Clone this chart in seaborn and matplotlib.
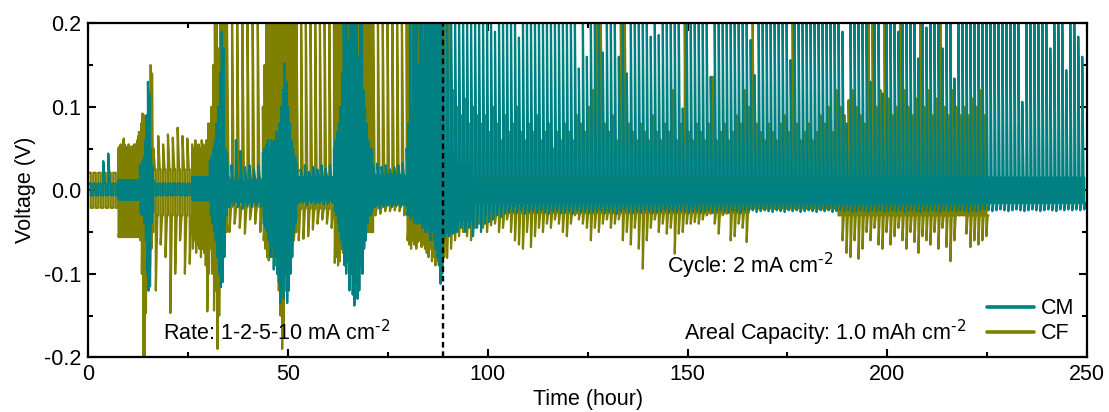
import matplotlib
matplotlib.use("Agg")
import matplotlib.pyplot as plt
import numpy as np
import pandas as pd
import seaborn as sns
from matplotlib.lines import Line2D
from matplotlib.ticker import MultipleLocator, FormatStrFormatter

# ---------------------------------------------------------------------------
# Galvanostatic cycling of two symmetric cells (CM and CF).
# Each series is stored as blocks of cycles: block time edges (hour), number of
# cycles in the block, plateau voltages, and the per-cycle peak voltages of the
# stripping (up) and plating (down) steps.  A scalar means the same value for
# every cycle of that block.
# ---------------------------------------------------------------------------

cm_edges = [0.0, 7.5, 12.9, 16.3, 26.0, 30.4, 34.7, 43.7, 52.1, 61.5, 71.3,
            79.7, 88.8, 91.8, 95.8, 249.8]
cm_cycles = [6, 27, 10, 8, 22, 10, 8, 20, 9, 24, 8, 22, 3, 4, 154]
cm_hi = [0.008, 0.011, 0.028, 0.008, 0.014, 0.03, 0.012, 0.04, 0.016, 0.045,
         0.018, 0.025, 0.045, 0.03, 0.015]
cm_lo = [-0.006, -0.010, -0.026, -0.006, -0.011, -0.03, -0.014, -0.035, -0.012,
         -0.02, -0.016, -0.025, -0.05, -0.035, -0.015]
cm_up = [
    [0.008, 0.008, 0.008, 0.035, 0.044, 0.008],
    0.012,
    [0.03, 0.03, 0.035, 0.04, 0.06, 0.09, 0.13, 0.115, 0.05, 0.03],
    [0.012, 0.008, 0.008, 0.008, 0.008, 0.008, 0.008, 0.008],
    0.016,
    [0.035, 0.04, 0.05, 0.06, 0.08, 0.1, 0.14, 0.19, 0.17, 0.05],
    [0.045, 0.03, 0.06, 0.047, 0.028, 0.03, 0.025, 0.03],
    [0.045, 0.05, 0.055, 0.06, 0.05, 0.06, 0.05, 0.06, 0.07, 0.06,
     0.08, 0.1, 0.12, 0.152, 0.13, 0.1, 0.08, 0.06, 0.05, 0.04],
    [0.032, 0.025, 0.03, 0.022, 0.028, 0.025, 0.03, 0.026, 0.03],
    [0.05, 0.06, 0.07, 0.08, 0.1, 0.14, 0.21, 0.21, 0.21, 0.18,
     0.21, 0.21, 0.21, 0.21, 0.21, 0.16, 0.21, 0.21, 0.12, 0.1,
     0.08, 0.06, 0.05, 0.05],
    [0.03, 0.032, 0.028, 0.03, 0.025, 0.028, 0.03, 0.032],
    [0.05, 0.08, 0.21, 0.1, 0.21, 0.12, 0.21, 0.15, 0.21, 0.21,
     0.18, 0.21, 0.21, 0.21, 0.21, 0.21, 0.21, 0.21, 0.21, 0.21,
     0.21, 0.21],
    0.21,
    0.21,
    [0.21, 0.21, 0.21, 0.21, 0.21, 0.21, 0.19, 0.21, 0.21, 0.21,
     0.21, 0.21, 0.183, 0.21, 0.21, 0.21, 0.21, 0.21, 0.21, 0.21,
     0.21, 0.21, 0.21, 0.21, 0.21, 0.21, 0.21, 0.146, 0.21, 0.16,
     0.21, 0.21, 0.21, 0.165, 0.21, 0.21, 0.21, 0.16, 0.21, 0.14,
     0.21, 0.21, 0.21, 0.21, 0.21, 0.184, 0.21, 0.186, 0.21, 0.21,
     0.21, 0.21, 0.21, 0.098, 0.21, 0.21, 0.21, 0.21, 0.21, 0.21,
     0.136, 0.21, 0.21, 0.21, 0.21, 0.21, 0.21, 0.21, 0.21, 0.21,
     0.18, 0.138, 0.21, 0.21, 0.21, 0.21, 0.21, 0.21, 0.21, 0.21,
     0.156, 0.21, 0.21, 0.21, 0.21, 0.21, 0.21, 0.21, 0.21, 0.21,
     0.21, 0.21, 0.21, 0.19, 0.08, 0.21, 0.21, 0.21, 0.21, 0.21,
     0.13, 0.21, 0.21, 0.116, 0.21, 0.21, 0.21, 0.19, 0.21, 0.21,
     0.21, 0.21, 0.158, 0.21, 0.195, 0.21, 0.21, 0.21, 0.17, 0.21,
     0.21, 0.134, 0.21, 0.21, 0.21, 0.21, 0.21, 0.21, 0.21, 0.21,
     0.21, 0.21, 0.21, 0.21, 0.21, 0.21, 0.21, 0.21, 0.106, 0.21,
     0.21, 0.21, 0.21, 0.21, 0.21, 0.17, 0.21, 0.21, 0.21, 0.144,
     0.21, 0.21, 0.184, 0.16],
]
cm_down = [
    -0.006,
    -0.011,
    [-0.028, -0.03, -0.03, -0.04, -0.06, -0.1, -0.12, -0.115, -0.04, -0.02],
    -0.006,
    -0.012,
    [-0.03, -0.04, -0.05, -0.06, -0.08, -0.1, -0.116, -0.11, -0.08, -0.03],
    [-0.02, -0.018, -0.02, -0.022, -0.018, -0.02, -0.018, -0.02],
    [-0.04, -0.045, -0.05, -0.06, -0.08, -0.07, -0.095, -0.08, -0.1, -0.11,
     -0.135, -0.12, -0.13, -0.1, -0.135, -0.12, -0.1, -0.08, -0.05, -0.04],
    [-0.016, -0.015, -0.018, -0.015, -0.016, -0.015, -0.017, -0.016, -0.015],
    [-0.025, -0.03, -0.04, -0.05, -0.06, -0.07, -0.09, -0.1, -0.085, -0.12,
     -0.1, -0.125, -0.138, -0.11, -0.13, -0.12, -0.09, -0.1, -0.07, -0.06,
     -0.04, -0.03, -0.03, -0.025],
    [-0.02, -0.022, -0.02, -0.018, -0.02, -0.018, -0.02, -0.018],
    [-0.03, -0.03, -0.035, -0.03, -0.04, -0.035, -0.04, -0.03, -0.04, -0.045,
     -0.04, -0.05, -0.045, -0.05, -0.06, -0.05, -0.06, -0.07, -0.08, -0.09,
     -0.112, -0.1],
    [-0.056, -0.055, -0.052],
    [-0.05, -0.045, -0.05, -0.045],
    [-0.055, -0.045, -0.05, -0.04, -0.038, -0.035, -0.03, -0.032, -0.028, -0.026,
     -0.025, -0.027, -0.024, -0.028, -0.026, -0.025, -0.027, -0.024, -0.026, -0.028,
     -0.025, -0.024, -0.027, -0.026, -0.025, -0.028, -0.024, -0.026, -0.025, -0.027,
     -0.026, -0.025, -0.024, -0.027, -0.025, -0.026, -0.028, -0.025, -0.024, -0.026,
     -0.027, -0.025, -0.026, -0.024, -0.025, -0.027, -0.026, -0.025, -0.024, -0.026,
     -0.025, -0.026, -0.024, -0.025, -0.027, -0.025, -0.024, -0.026, -0.025, -0.024,
     -0.026, -0.025, -0.024, -0.025, -0.026, -0.024, -0.025, -0.027, -0.024, -0.025,
     -0.024, -0.026, -0.025, -0.024, -0.025, -0.026, -0.024, -0.025, -0.026, -0.024,
     -0.025, -0.024, -0.026, -0.025, -0.024, -0.025, -0.026, -0.024, -0.025, -0.024,
     -0.026, -0.025, -0.024, -0.025, -0.024, -0.026, -0.025, -0.024, -0.025, -0.026,
     -0.024, -0.025, -0.024, -0.026, -0.025, -0.024, -0.025, -0.024, -0.026, -0.025,
     -0.024, -0.025, -0.026, -0.024, -0.025, -0.024, -0.025, -0.026, -0.024, -0.025,
     -0.024, -0.025, -0.024, -0.025, -0.026, -0.024, -0.025, -0.024, -0.023, -0.024,
     -0.025, -0.024, -0.023, -0.024, -0.025, -0.024, -0.023, -0.024, -0.025, -0.024,
     -0.023, -0.024, -0.025, -0.024, -0.023, -0.024, -0.025, -0.023, -0.024, -0.023,
     -0.024, -0.023, -0.024, -0.023],
]

cf_edges = [0.0, 7.5, 12.9, 16.3, 26.0, 30.4, 34.7, 43.7, 52.1, 61.5, 71.3,
            79.7, 89.3, 165.3, 187.3, 225.3]
cf_cycles = [6, 27, 10, 8, 11, 10, 7, 20, 8, 24, 7, 22, 76, 22, 38]
cf_hi = [0.021, 0.045, 0.05, 0.025, 0.04, 0.04, 0.015, 0.05, 0.015, 0.05,
         0.015, 0.04, 0.017, 0.016, 0.017]
cf_lo = [-0.021, -0.052, -0.05, -0.03, -0.05, -0.05, -0.02, -0.05, -0.022,
         -0.05, -0.018, -0.05, -0.027, -0.017, -0.03]
cf_up = [
    0.021,
    [0.05, 0.052, 0.048, 0.055, 0.05, 0.053, 0.06, 0.062, 0.055, 0.05,
     0.052, 0.048, 0.05, 0.055, 0.05, 0.052, 0.05, 0.048, 0.053, 0.05,
     0.055, 0.05, 0.052, 0.056, 0.06, 0.065, 0.07],
    [0.06, 0.08, 0.092, 0.09, 0.07, 0.06, 0.08, 0.12, 0.15, 0.14],
    [0.05, 0.065, 0.055, 0.067, 0.063, 0.075, 0.065, 0.062],
    [0.055, 0.05, 0.06, 0.05, 0.055, 0.05, 0.06, 0.055, 0.05, 0.06, 0.08],
    [0.08, 0.1, 0.15, 0.21, 0.21, 0.17, 0.21, 0.21, 0.21, 0.21],
    0.21,
    [0.1, 0.15, 0.21, 0.21, 0.21, 0.21, 0.21, 0.21, 0.21, 0.21,
     0.21, 0.21, 0.21, 0.21, 0.21, 0.21, 0.21, 0.21, 0.21, 0.21],
    0.21,
    0.21,
    0.21,
    0.21,
    [0.21, 0.21, 0.12, 0.1, 0.09, 0.11, 0.08, 0.1, 0.09, 0.08,
     0.09, 0.07, 0.1, 0.08, 0.06, 0.09, 0.07, 0.08, 0.1, 0.07,
     0.06, 0.08, 0.07, 0.09, 0.06, 0.07, 0.08, 0.05, 0.07, 0.06,
     0.08, 0.07, 0.06, 0.09, 0.08, 0.07, 0.1, 0.12, 0.21, 0.21,
     0.08, 0.07, 0.09, 0.06, 0.21, 0.21, 0.08, 0.07, 0.06, 0.08,
     0.07, 0.06, 0.09, 0.07, 0.06, 0.08, 0.07, 0.12, 0.06, 0.08,
     0.21, 0.07, 0.06, 0.08, 0.07, 0.06, 0.08, 0.136, 0.06, 0.07,
     0.08, 0.06, 0.07, 0.09, 0.08, 0.12],
    [0.1, 0.21, 0.08, 0.07, 0.06, 0.08, 0.07, 0.06, 0.08, 0.09,
     0.07, 0.21, 0.08, 0.06, 0.07, 0.08, 0.06, 0.07, 0.09, 0.08,
     0.1, 0.07],
    [0.12, 0.1, 0.09, 0.108, 0.12, 0.1, 0.09, 0.08, 0.21, 0.21,
     0.1, 0.12, 0.21, 0.11, 0.09, 0.1, 0.21, 0.12, 0.1, 0.09,
     0.11, 0.21, 0.1, 0.12, 0.09, 0.11, 0.21, 0.1, 0.09, 0.12,
     0.1, 0.09, 0.1, 0.09, 0.11, 0.1, 0.12, 0.09],
]
cf_down = [
    -0.021,
    -0.056,
    [-0.06, -0.1, -0.2, -0.2, -0.147, -0.1, -0.12, -0.09, -0.07, -0.05],
    [-0.12, -0.065, -0.08, -0.147, -0.1, -0.06, -0.1, -0.088],
    [-0.07, -0.06, -0.075, -0.065, -0.07, -0.08, -0.07, -0.075, -0.09, -0.145, -0.1],
    [-0.07, -0.1, -0.144, -0.12, -0.19, -0.15, -0.1, -0.08, -0.06, -0.05],
    [-0.05, -0.04, -0.045, -0.052, -0.035, -0.04, -0.05],
    [-0.06, -0.07, -0.08, -0.084, -0.07, -0.08, -0.06, -0.09, -0.1, -0.12,
     -0.15, -0.19, -0.16, -0.12, -0.1, -0.08, -0.07, -0.06, -0.06, -0.05],
    [-0.06, -0.058, -0.055, -0.047, -0.04, -0.035, -0.04, -0.045],
    [-0.087, -0.08, -0.09, -0.085, -0.07, -0.075, -0.08, -0.07, -0.065, -0.06,
     -0.07, -0.065, -0.06, -0.065, -0.06, -0.055, -0.06, -0.05, -0.05, -0.045,
     -0.04, -0.04, -0.035, -0.03],
    [-0.03, -0.028, -0.025, -0.025, -0.024, -0.025, -0.03],
    [-0.06, -0.065, -0.07, -0.06, -0.065, -0.07, -0.062, -0.06, -0.068, -0.065,
     -0.07, -0.075, -0.08, -0.07, -0.085, -0.08, -0.09, -0.085, -0.08, -0.092,
     -0.085, -0.08],
    [-0.081, -0.07, -0.06, -0.055, -0.05, -0.055, -0.06, -0.045, -0.04, -0.045,
     -0.05, -0.042, -0.04, -0.05, -0.045, -0.035, -0.05, -0.06, -0.065, -0.07,
     -0.05, -0.068, -0.055, -0.045, -0.05, -0.04, -0.045, -0.035, -0.04, -0.05,
     -0.055, -0.04, -0.03, -0.035, -0.04, -0.045, -0.06, -0.045, -0.05, -0.04,
     -0.035, -0.045, -0.04, -0.035, -0.06, -0.05, -0.065, -0.045, -0.07, -0.094,
     -0.06, -0.045, -0.035, -0.05, -0.04, -0.052, -0.045, -0.076, -0.052, -0.05,
     -0.04, -0.04, -0.038, -0.04, -0.035, -0.03, -0.028, -0.04, -0.052, -0.03,
     -0.028, -0.06, -0.055, -0.04, -0.045, -0.062],
    -0.022,
    [-0.022, -0.06, -0.075, -0.08, -0.06, -0.082, -0.07, -0.05, -0.06, -0.045,
     -0.065, -0.07, -0.05, -0.065, -0.055, -0.045, -0.06, -0.07, -0.05, -0.062,
     -0.075, -0.055, -0.06, -0.065, -0.05, -0.07, -0.045, -0.068, -0.085, -0.06,
     -0.03, -0.028, -0.052, -0.068, -0.06, -0.065, -0.06, -0.055],
]

series_names = ["CM", "CF"]
series_colors = {"CM": "#008080", "CF": "#808000"}
divider_hour = 88.8


def per_cycle(values, n):
    """Return n per-cycle values from a scalar or a list."""
    if np.isscalar(values):
        return [values] * n
    if len(values) == n:
        return list(values)
    return [values[i * len(values) // n] for i in range(n)]


def trace(edges, cycles, hi, lo, up, down, decay=0.32):
    """Voltage trace of a series: each cycle has an up step and a down step,
    each opening with its peak and relaxing onto its plateau."""
    t, v = [], []
    for b, n in enumerate(cycles):
        period = (edges[b + 1] - edges[b]) / n
        ups = per_cycle(up[b], n)
        downs = per_cycle(down[b], n)
        for i in range(n):
            t0 = edges[b] + i * period
            pu = max(ups[i], hi[b])
            pd_ = min(downs[i], lo[b])
            t += [t0, t0 + decay * period, t0 + 0.5 * period,
                  t0 + 0.5 * period, t0 + (0.5 + decay) * period, t0 + period]
            v += [pu, hi[b], hi[b], pd_, lo[b], lo[b]]
    return t, v


frames = []
for name, args in (("CF", (cf_edges, cf_cycles, cf_hi, cf_lo, cf_up, cf_down)),
                   ("CM", (cm_edges, cm_cycles, cm_hi, cm_lo, cm_up, cm_down))):
    t, v = trace(*args)
    frames.append(pd.DataFrame({"time": t, "voltage": v, "cell": name}))
df = pd.concat(frames, ignore_index=True)

sns.set_theme(style="ticks")
plt.rcParams["font.family"] = ["Liberation Sans", "DejaVu Sans"]
plt.rcParams["mathtext.default"] = "regular"
plt.rcParams["axes.unicode_minus"] = False
plt.rcParams["text.color"] = "black"
plt.rcParams["axes.labelcolor"] = "black"
plt.rcParams["xtick.color"] = "black"
plt.rcParams["ytick.color"] = "black"

FS = 15.5
SUP = r"$^{\text{-2}}$"

fig = plt.figure(figsize=(11.09, 4.12), dpi=100)
ax = fig.add_axes([0.0796, 0.1328, 0.9006, 0.8106])

sns.lineplot(data=df, x="time", y="voltage", hue="cell", hue_order=["CF", "CM"],
             palette=series_colors, sort=False, estimator=None, linewidth=1.6,
             legend=False, ax=ax)

ax.axvline(divider_hour, color="black", linestyle=(0, (2.4, 1.6)), linewidth=1.7,
           zorder=5)

ax.set_xlim(0, 250)
ax.set_ylim(-0.2, 0.2)
ax.xaxis.set_major_locator(MultipleLocator(50))
ax.xaxis.set_minor_locator(MultipleLocator(25))
ax.yaxis.set_major_locator(MultipleLocator(0.1))
ax.yaxis.set_minor_locator(MultipleLocator(0.05))
ax.yaxis.set_major_formatter(FormatStrFormatter("%.1f"))
ax.tick_params(which="both", direction="in", top=True, right=True, width=1.5,
               labelsize=FS, colors="black")
ax.tick_params(which="major", length=6, pad=5)
ax.tick_params(which="minor", length=3.5)
for side in ax.spines.values():
    side.set_linewidth(1.6)
    side.set_color("black")

ax.set_xlabel("Time (hour)", fontsize=FS, labelpad=3, color="black")
ax.set_ylabel("Voltage (V)", fontsize=FS, labelpad=6, color="black")

ax.text(18.6, -0.171, "Rate: 1-2-5-10 mA cm" + SUP, fontsize=FS, va="center",
        color="black")
ax.text(144.8, -0.091, "Cycle: 2 mA cm" + SUP, fontsize=FS, va="center",
        color="black")
ax.text(149.0, -0.171, "Areal Capacity: 1.0 mAh cm" + SUP, fontsize=FS,
        va="center", color="black")

handles = [Line2D([], [], color=series_colors[n], linewidth=2.6, label=n)
           for n in series_names]
leg = ax.legend(handles=handles, loc="lower right", frameon=False, fontsize=FS,
                handlelength=2.2, handletextpad=0.3, labelspacing=0.2,
                borderaxespad=0.2)
for txt in leg.get_texts():
    txt.set_color("black")

fig.savefig("out.png", dpi=100)
